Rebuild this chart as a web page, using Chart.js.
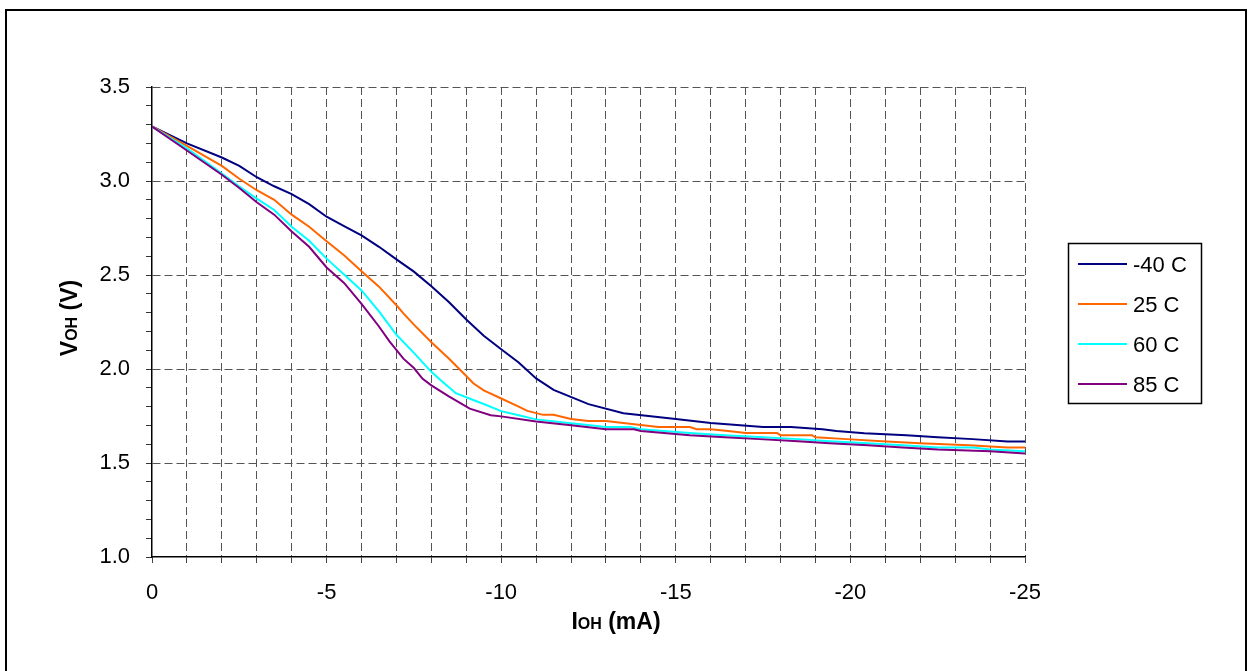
<!DOCTYPE html>
<html>
<head>
<meta charset="utf-8">
<script src="https://cdn.jsdelivr.net/npm/chart.js@4.4.1/dist/chart.umd.min.js"></script>
<style>
  html, body { margin: 0; padding: 0; background: #fff; overflow: hidden; }
  #wrap { position: relative; width: 1252px; height: 671px; }
  #c { position: absolute; left: 0; top: 0; }
  #frame { position: absolute; left: 5px; top: 9px; width: 1242px; height: 700px;
           border: 2px solid #000; border-bottom: none; box-sizing: border-box; pointer-events: none; }
</style>
</head>
<body>
<div id="wrap">
  <canvas id="c" width="1252" height="671"></canvas>
  <div id="frame"></div>
</div>
<script>
// ---- data (I in mA, V in volts) ----
const seriesLabels = ['-40 C', '25 C', '60 C', '85 C'];
const seriesColors = ['#000080', '#FF6600', '#00FFFF', '#800080'];

const iM40 = [0, -1, -2, -2.5, -3, -3.5, -4, -4.5, -5, -5.5, -6, -6.5, -7, -7.5, -8, -8.5, -9, -9.5, -10, -10.5, -11, -11.5, -12.5, -13.5, -15, -16, -17.5, -18.3, -19.2, -19.6, -20.4, -21.6, -22.5, -23.5, -24.5, -25];
const vM40 = [3.29, 3.20, 3.125, 3.08, 3.02, 2.972, 2.93, 2.877, 2.81, 2.76, 2.711, 2.65, 2.583, 2.518, 2.44, 2.356, 2.263, 2.177, 2.105, 2.035, 1.95, 1.889, 1.813, 1.765, 1.734, 1.713, 1.691, 1.691, 1.68, 1.67, 1.658, 1.648, 1.637, 1.627, 1.615, 1.615];

const i25 = [0, -1, -2, -2.5, -3, -3.5, -4, -4.5, -5, -5.5, -6, -6.5, -7, -7.2, -7.5, -8, -8.5, -9, -9.2, -9.5, -10, -10.5, -10.75, -11.2, -11.5, -12, -12.5, -13, -14, -14.5, -15.4, -15.6, -16, -16.5, -17, -17.9, -18, -18.9, -19, -19.9, -20.9, -22, -23.4, -24.5, -25];
const v25 = [3.29, 3.187, 3.08, 3.012, 2.951, 2.9, 2.821, 2.757, 2.679, 2.605, 2.52, 2.438, 2.339, 2.296, 2.236, 2.142, 2.056, 1.963, 1.924, 1.886, 1.843, 1.8, 1.777, 1.756, 1.756, 1.734, 1.723, 1.723, 1.702, 1.691, 1.691, 1.68, 1.68, 1.67, 1.659, 1.659, 1.648, 1.648, 1.637, 1.627, 1.616, 1.605, 1.594, 1.583, 1.583];

const i60 = [0, -1, -2, -2.5, -3, -3.5, -4, -4.5, -5, -5.5, -6, -6.5, -7, -7.5, -8, -8.3, -8.7, -9.2, -9.5, -10, -10.5, -11, -12, -13, -13.7, -14, -15.4, -16.4, -17.5, -18.5, -19.4, -20.5, -21.5, -22.5, -23.5, -24, -25];
const v60 = [3.29, 3.174, 3.04, 2.97, 2.906, 2.846, 2.757, 2.682, 2.587, 2.503, 2.418, 2.307, 2.182, 2.086, 1.985, 1.935, 1.871, 1.835, 1.814, 1.776, 1.754, 1.732, 1.711, 1.691, 1.691, 1.68, 1.659, 1.648, 1.637, 1.627, 1.616, 1.605, 1.594, 1.583, 1.583, 1.572, 1.562];

const i85 = [0, -1, -2, -2.5, -3, -3.5, -4, -4.5, -5, -5.5, -6, -6.5, -6.8, -7.2, -7.5, -7.75, -8, -8.5, -9.1, -9.7, -10, -11, -12, -13, -13.8, -14, -15.4, -16.4, -17.4, -18.5, -19.4, -20.5, -21.5, -22.5, -24, -25];
const v85 = [3.29, 3.162, 3.033, 2.963, 2.887, 2.821, 2.731, 2.65, 2.54, 2.458, 2.346, 2.226, 2.147, 2.055, 2.005, 1.948, 1.913, 1.854, 1.789, 1.754, 1.748, 1.721, 1.701, 1.68, 1.68, 1.67, 1.648, 1.637, 1.627, 1.616, 1.605, 1.594, 1.583, 1.572, 1.562, 1.551];

const xMin = -25, xMax = 0, xStep = 1, xLabelEvery = 5;
const yMin = 1.0, yMax = 3.5, yStep = 0.1, yLabelEvery = 0.5;

const xTitleMain = 'I', xTitleSub = 'OH', xTitleRest = ' (mA)';
const yTitleMain = 'V', yTitleSub = 'OH', yTitleRest = ' (V)';

// ---- build ----
const allI = [iM40, i25, i60, i85];
const allV = [vM40, v25, v60, v85];
const datasets = seriesLabels.map((lab, k) => ({
  label: lab,
  data: allI[k].map((x, j) => ({ x: x, y: allV[k][j] })),
  borderColor: seriesColors[k],
  backgroundColor: seriesColors[k],
  borderWidth: 2,
  pointRadius: 0,
  tension: 0,
  fill: false,
  order: seriesLabels.length - k
}));

const FONT = "'Liberation Sans', Arial, sans-serif";
const isMultiple = (v, m) => Math.abs(v / m - Math.round(v / m)) < 1e-6;
const CLEAR = 'rgba(0,0,0,0)';

const overlay = {
  id: 'overlay',
  afterDraw(chart) {
    const ctx = chart.ctx;
    ctx.save();
    ctx.fillStyle = '#000';
    ctx.textBaseline = 'alphabetic';
    function titleParts(main, sub, rest) {
      const big = 'bold 23px ' + FONT, small = 'bold 16px ' + FONT;
      ctx.font = big; const w1 = ctx.measureText(main).width;
      ctx.font = small; const w2 = ctx.measureText(sub).width;
      ctx.font = big; const w3 = ctx.measureText(rest).width;
      return { w: w1 + w2 + w3, draw(x0, y0) {
        ctx.font = big; ctx.textAlign = 'left'; ctx.fillText(main, x0, y0);
        ctx.font = small; ctx.fillText(sub, x0 + w1, y0);
        ctx.font = big; ctx.fillText(rest, x0 + w1 + w2, y0);
      } };
    }
    const xt = titleParts(xTitleMain, xTitleSub, xTitleRest);
    xt.draw(616 - xt.w / 2, 629);
    const yt = titleParts(yTitleMain, yTitleSub, yTitleRest);
    ctx.save();
    ctx.translate(77, 318);
    ctx.rotate(-Math.PI / 2);
    yt.draw(-yt.w / 2, 0);
    ctx.restore();

    // legend box
    ctx.lineWidth = 1.5;
    ctx.strokeStyle = '#000';
    ctx.strokeRect(1068.5, 243.5, 133, 160);
    chart.data.datasets.forEach((ds, k) => {
      const y = 264 + k * 40;
      ctx.beginPath();
      ctx.lineWidth = 2;
      ctx.strokeStyle = ds.borderColor;
      ctx.moveTo(1078, y);
      ctx.lineTo(1127, y);
      ctx.stroke();
      ctx.font = '22px ' + FONT;
      ctx.textAlign = 'left';
      ctx.fillStyle = '#000';
      ctx.fillText(ds.label, 1133, y + 8);
    });
    ctx.restore();
  }
};

new Chart(document.getElementById('c'), {
  type: 'line',
  data: { datasets },
  options: {
    responsive: false,
    animation: false,
    events: [],
    layout: { padding: { left: 0, top: 87, right: 227, bottom: 0 } },
    plugins: { legend: { display: false }, tooltip: { enabled: false }, title: { display: false } },
    scales: {
      x: {
        type: 'linear',
        reverse: true,
        min: xMin, max: xMax,
        afterFit(s) { s.height = 114; },
        ticks: {
          stepSize: xStep,
          autoSkip: false,
          maxRotation: 0,
          padding: 17,
          color: '#000',
          font: { family: FONT, size: 22 },
          callback: (v) => isMultiple(v, xLabelEvery) ? (v === 0 ? '0' : String(v)) : ''
        },
        grid: {
          color: (c) => (c.tick && Math.abs(c.tick.value - xMax) < 1e-9) ? CLEAR : '#555',
          lineWidth: 1,
          tickColor: '#444',
          tickWidth: 1,
          tickLength: 6,
          tickBorderDash: []
        },
        border: { display: true, color: '#000', width: 1.5, dash: [8, 4] }
      },
      y: {
        type: 'linear',
        min: yMin, max: yMax,
        afterFit(s) { s.width = 152; },
        ticks: {
          stepSize: yStep,
          autoSkip: false,
          padding: 16,
          color: '#000',
          font: { family: FONT, size: 22 },
          callback: (v) => isMultiple(v, yLabelEvery) ? Number(v).toFixed(1) : ''
        },
        grid: {
          color: (c) => (c.tick && isMultiple(c.tick.value, yLabelEvery) && Math.abs(c.tick.value - yMin) > 1e-9) ? '#555' : CLEAR,
          lineWidth: 1,
          tickColor: '#333',
          tickWidth: 1,
          tickLength: 6,
          tickBorderDash: []
        },
        border: { display: true, color: '#000', width: 1.5, dash: [8, 4] }
      }
    }
  },
  plugins: [overlay]
});
</script>
</body>
</html>
